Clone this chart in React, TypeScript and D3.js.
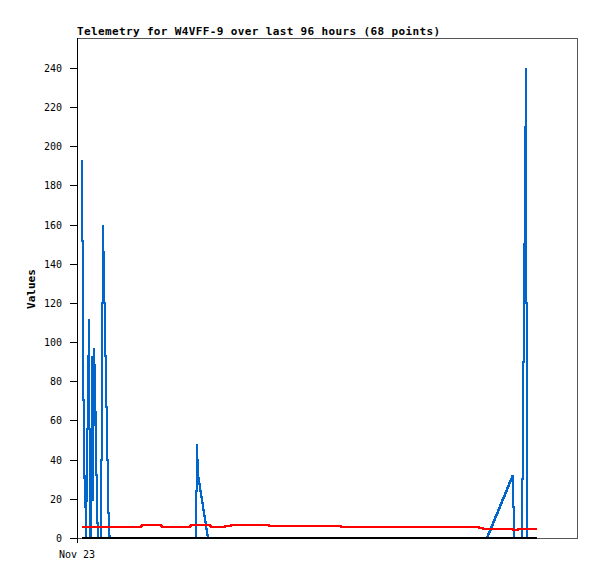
import React from "react";
import * as d3 from "d3";

// ---- data (hours after Nov 23 00:00, value) ----
const blueHours = [
  0.877, 1.085, 1.294, 1.503, 1.711, 1.92, 2.129, 2.337, 2.546, 2.755, 2.964, 3.172,
  3.381, 3.59, 3.798, 4.007, 4.216, 4.424, 4.633, 4.842, 5.051, 5.259, 5.468, 5.677,
  5.885, 6.094, 6.303, 6.511, 6.72, 11.06, 17.32, 24.668, 24.877, 25.086, 27.173,
  36.1, 46.54, 56.97, 67.41, 77.84, 85.4, 90.826, 91.035, 92.705, 93.539, 93.748, 95.835,
];
const blueValues = [
  193, 111, 30, 32, 0, 38, 74, 112, 0, 0, 93, 19,
  97, 80, 49, 16, 0, 0, 0, 0, 80, 160, 132, 108,
  78, 56, 24, 2, 0, 0, 0, 0, 48, 32, 0,
  0, 0, 0, 0, 0, 0, 32, 0, 0, 240, 0, 0,
];
const redHours = [
  0.877, 13.15, 13.36, 17.32, 17.53, 23.37, 23.58, 27.34, 27.97, 30.47, 30.89, 31.72,
  31.93, 39.86, 40.07, 54.89, 55.1, 83.69, 83.9, 85.15, 90.78, 90.99, 91.62, 91.83, 95.835,
];
const redValues = [
  5.8, 5.8, 6.8, 6.8, 5.8, 5.8, 6.8, 6.8, 5.8, 5.8, 6.3, 6.3,
  6.8, 6.8, 6.3, 6.3, 5.8, 5.8, 5.1, 4.6, 4.6, 4.1, 4.1, 4.6, 4.6,
];
const blackHours = [0.877, 95.835];
const blackValues = [0, 0];

const yTicks = [0, 20, 40, 60, 80, 100, 120, 140, 160, 180, 200, 220, 240];
const xTickHours = [0];
const xTickLabels = ["Nov 23"];
const titleText = "Telemetry for W4VFF-9 over last 96 hours (68 points)";
const yLabel = "Values";

const W = 597;
const H = 579;
const left = 77;
const right = 577;
const top = 38;
const bottom = 538;
const mono = "'DejaVu Sans Mono', 'Liberation Mono', monospace";

// Emulate a non-antialiased (Bresenham-like) raster line with H/V runs
function rasterPath(pts: [number, number][]): string {
  if (!pts.length) return "";
  const p = d3.path();
  p.moveTo(pts[0][0], pts[0][1]);
  for (let i = 1; i < pts.length; i++) {
    const [x0, y0] = pts[i - 1];
    const [x1, y1] = pts[i];
    const dx = x1 - x0;
    const dy = y1 - y0;
    if (dx === 0 || dy === 0) {
      p.lineTo(x1, y1);
      continue;
    }
    if (Math.abs(dy) >= Math.abs(dx)) {
      const n = Math.abs(dx);
      const sx = Math.sign(dx);
      for (let k = 0; k < n; k++) {
        const yy = Math.round(y0 + ((k + 0.5) * dy) / n);
        p.lineTo(x0 + k * sx, yy);
        p.lineTo(x0 + (k + 1) * sx, yy);
      }
      p.lineTo(x1, y1);
    } else {
      const n = Math.abs(dy);
      const sy = Math.sign(dy);
      for (let k = 0; k < n; k++) {
        const xx = Math.round(x0 + ((k + 0.5) * dx) / n);
        p.lineTo(xx, y0 + k * sy);
        p.lineTo(xx, y0 + (k + 1) * sy);
      }
      p.lineTo(x1, y1);
    }
  }
  return p.toString();
}

export default function App() {
  const x = d3.scaleLinear().domain([0, 104.35]).range([left, right]);
  const y = d3.scaleLinear().domain([0, 255.3]).range([bottom, top]);

  // +1 aligns the 2px stroke with the pixel column to the right of the sample
  const mk = (hs: number[], vs: number[]) =>
    rasterPath(hs.map((h, i) => [Math.round(x(h)) + 1, Math.round(y(vs[i]))] as [number, number]));

  return (
    <svg
      width={W}
      height={H}
      style={{ position: "absolute", left: 0, top: 0, background: "#fff" }}
    >
      <rect x={0} y={0} width={W} height={H} fill="#fff" />
      {/* frame */}
      <rect
        x={left + 0.5}
        y={top + 0.5}
        width={right - left}
        height={bottom - top}
        fill="none"
        stroke="#555"
        strokeWidth={1}
        shapeRendering="crispEdges"
      />
      <line x1={left + 0.5} x2={left + 0.5} y1={top} y2={bottom + 5} stroke="#000" shapeRendering="crispEdges" />
      {/* y ticks */}
      {yTicks.map((t) => (
        <g key={t}>
          <line
            x1={left - 7}
            x2={left + 1}
            y1={Math.round(y(t)) + 0.5}
            y2={Math.round(y(t)) + 0.5}
            stroke="#000"
            shapeRendering="crispEdges"
          />
          <text
            x={62}
            y={Math.round(y(t)) + 0.5}
            dy="0.35em"
            textAnchor="end"
            fontFamily={mono}
            fontSize={10}
            fill="#000"
          >
            {t}
          </text>
        </g>
      ))}
      {/* x ticks */}
      {xTickHours.map((h, i) => (
        <text
          key={i}
          x={x(h)}
          y={558}
          textAnchor="middle"
          fontFamily={mono}
          fontSize={10}
          fill="#000"
        >
          {xTickLabels[i]}
        </text>
      ))}
      {/* series */}
      <path d={mk(blueHours, blueValues)} fill="none" stroke="#0066cc" strokeWidth={2} shapeRendering="crispEdges" />
      <path d={mk(redHours, redValues)} fill="none" stroke="#ff0000" strokeWidth={2} shapeRendering="crispEdges" />
      <path d={mk(blackHours, blackValues)} fill="none" stroke="#000" strokeWidth={2} shapeRendering="crispEdges" />
      {/* title */}
      <text
        x={77}
        y={35}
        fontFamily={mono}
        fontWeight="bold"
        fontSize={11}
        textLength={363}
        lengthAdjust="spacing"
        fill="#000"
      >
        {titleText}
      </text>
      <text
        transform={`translate(35, 289) rotate(-90)`}
        textAnchor="middle"
        fontFamily={mono}
        fontWeight="bold"
        fontSize={11}
        fill="#000"
      >
        {yLabel}
      </text>
    </svg>
  );
}
